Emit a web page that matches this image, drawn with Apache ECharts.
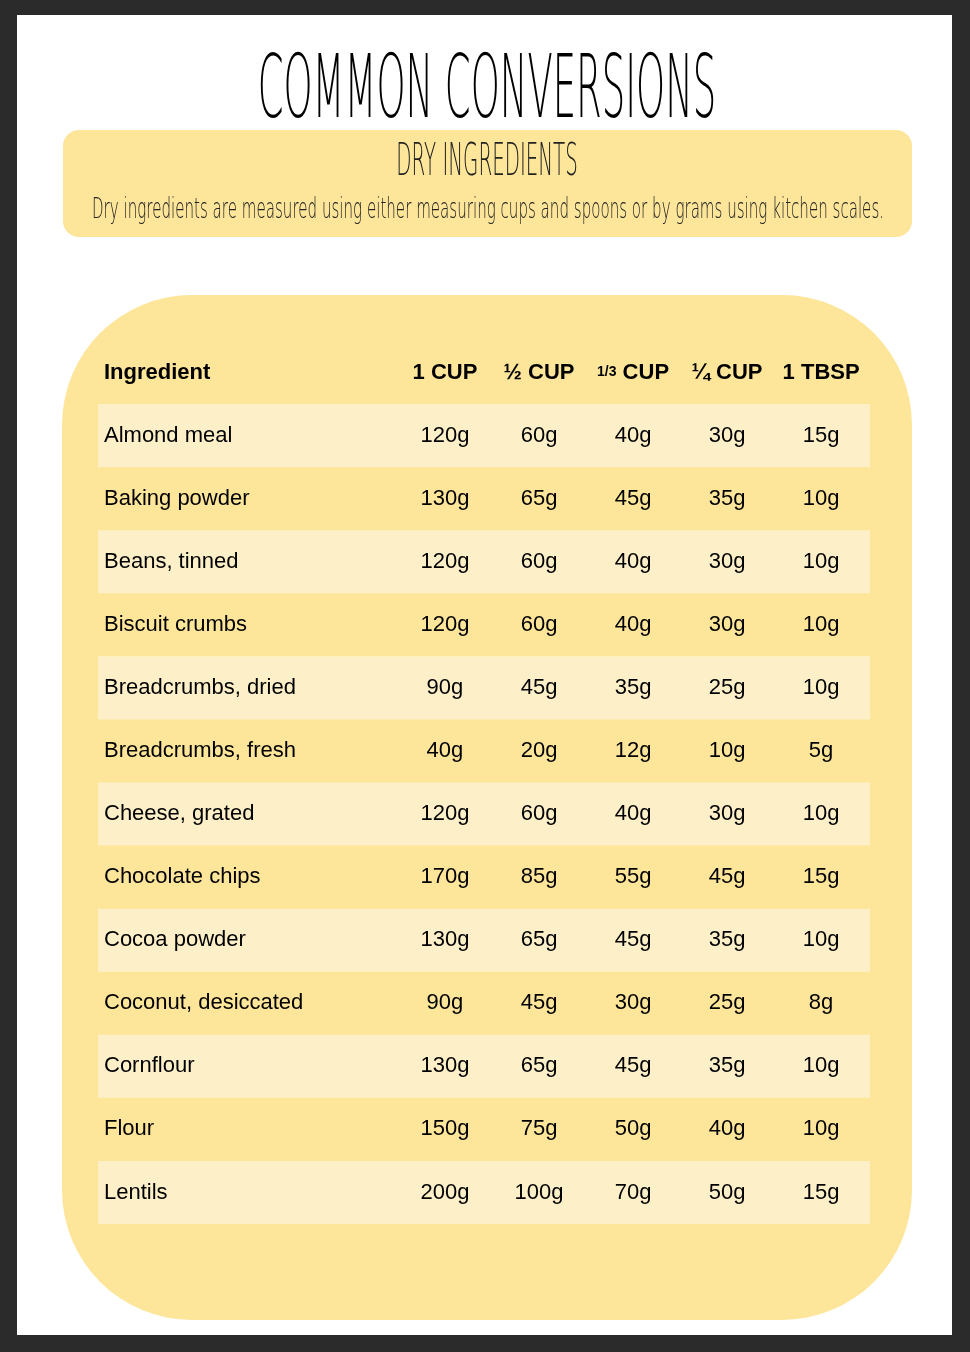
<!DOCTYPE html>
<html><head><meta charset="utf-8">
<script src="https://cdn.jsdelivr.net/npm/echarts@6/dist/echarts.min.js"></script>
<style>html,body{margin:0;padding:0;background:#2b2b2b}#c{width:970px;height:1352px}</style>
</head><body><div id="c"></div>
<script>
const headers = ['Ingredient', '1 CUP', '½ CUP', '1/3 CUP', '¼ CUP', '1 TBSP'];
const ingredients = ['Almond meal','Baking powder','Beans, tinned','Biscuit crumbs','Breadcrumbs, dried','Breadcrumbs, fresh','Cheese, grated','Chocolate chips','Cocoa powder','Coconut, desiccated','Cornflour','Flour','Lentils'];
const cup1 = [120,130,120,120,90,40,120,170,130,90,130,150,200];
const cupHalf = [60,65,60,60,45,20,60,85,65,45,65,75,100];
const cupThird = [40,45,40,40,35,12,40,55,45,30,45,50,70];
const cupQuarter = [30,35,30,30,25,10,30,45,35,25,35,40,50];
const tbsp1 = [15,10,10,10,10,5,10,15,10,8,10,10,15];

const rows = ['header'].concat(ingredients);
const data = rows.map((r, i) => [i]);
const chart = echarts.init(document.getElementById('c'));
const F = 'Liberation Sans, Arial, sans-serif';

function renderItem(params, api) {
  const i = api.value(0);
  const y = api.coord([0, i])[1];
  const h = api.size([0, 1])[1];
  const cs = params.coordSys;
  const children = [];
  if (i > 0 && i % 2 === 1) {
    children.push({type:'rect', shape:{x:cs.x, y:y-h/2, width:cs.width, height:h}, style:{fill:'#fdf0c8'}});
  }
  const bold = i === 0;
  const vals = i === 0 ? headers : [ingredients[i-1], cup1[i-1]+'g', cupHalf[i-1]+'g', cupThird[i-1]+'g', cupQuarter[i-1]+'g', tbsp1[i-1]+'g'];
  vals.forEach((t, c) => {
    const x = c === 0 ? cs.x + 6 : api.coord([c, i])[0];
    if (i === 0 && c === 3) {
      children.push({type:'text', x:x, y:y, style:{text:'{s|1/3} CUP', rich:{s:{fontSize:14,fontWeight:'bold',fontFamily:F,fill:'#000'}}, font:'bold 22px '+F, fill:'#000', textAlign:'center', textVerticalAlign:'middle'}});
      return;
    }
    children.push({type:'text', x:x, y:y, style:{text:t, font:(bold?'bold ':'')+'22px '+F, fill:'#000', textAlign:c===0?'left':'center', textVerticalAlign:'middle'}});
  });
  return {type:'group', children};
}

chart.setOption({
  backgroundColor: '#2b2b2b',
  animation: false,
  graphic: [
    {type:'rect', shape:{x:17,y:15,width:935,height:1320}, style:{fill:'#fff'}, z:-10},
    {type:'rect', shape:{x:63,y:130,width:849,height:107,r:16}, style:{fill:'#fde59a'}, z:-5},
    {type:'rect', shape:{x:62,y:295,width:850,height:1025,r:130}, style:{fill:'#fde59a'}, z:-5},
    {type:'text', x:487, y:94, scaleX:0.42, originX:0, originY:0, style:{text:'COMMON CONVERSIONS', font:'200 88px DejaVu Sans', fill:'#000', textAlign:'center', textVerticalAlign:'middle'}},
    {type:'text', x:487, y:164, scaleX:0.45, originX:0, originY:0, style:{text:'DRY INGREDIENTS', font:'200 44px DejaVu Sans', fill:'#222', textAlign:'center', textVerticalAlign:'middle'}},
    {type:'text', x:488, y:210, scaleX:0.52, originX:0, originY:0, style:{text:'Dry ingredients are measured using either measuring cups and spoons or by grams using kitchen scales.', font:'200 29px DejaVu Sans', fill:'#222', textAlign:'center', textVerticalAlign:'middle'}}
  ],
  grid: {left:98, right:100, top:341, bottom:128},
  xAxis: {type:'value', min:-2.69, max:5.52, show:false},
  yAxis: {type:'category', data:rows, inverse:true, show:false},
  series: [{type:'custom', renderItem, data, encode:{y:0}}]
});
</script></body></html>
